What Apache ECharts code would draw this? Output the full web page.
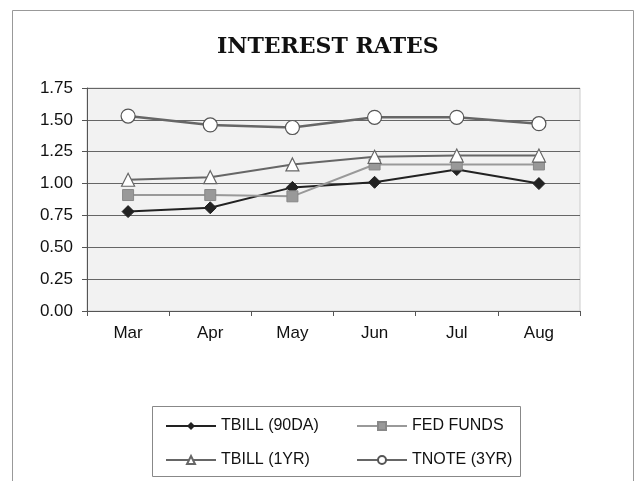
<!DOCTYPE html>
<html>
<head>
<meta charset="utf-8">
<script src="https://cdn.jsdelivr.net/npm/echarts@6/dist/echarts.min.js"></script>
<style>html,body{margin:0;padding:0;background:#fff}#c{width:636px;height:481px}</style>
</head>
<body>
<div id="c"></div>
<script>
const categories = ['Mar', 'Apr', 'May', 'Jun', 'Jul', 'Aug'];
const tbill90 = [0.78, 0.81, 0.97, 1.01, 1.11, 1.00];
const fedFunds = [0.91, 0.91, 0.90, 1.15, 1.15, 1.15];
const tbill1yr = [1.03, 1.05, 1.15, 1.21, 1.22, 1.22];
const tnote3yr = [1.53, 1.46, 1.44, 1.52, 1.52, 1.47];
const yTicks = ['0.00','0.25','0.50','0.75','1.00','1.25','1.50','1.75'];

const chart = echarts.init(document.getElementById('c'));
const sans = 'Liberation Sans, Arial, sans-serif';
chart.setOption({
  animation: false,
  backgroundColor: '#fff',
  title: {
    text: 'INTEREST RATES', left: 217, top: 36, padding: 0,
    textStyle: {fontFamily: 'DejaVu Serif, serif', fontWeight: 'bold', fontSize: 22, color: '#111'}
  },
  graphic: [
    {type: 'rect', shape: {x: 12.5, y: 10.5, width: 621, height: 480}, style: {fill: 'none', stroke: '#999', lineWidth: 1}, z: -1},
    {type: 'rect', shape: {x: 152.5, y: 406.5, width: 368, height: 70}, style: {fill: 'none', stroke: '#888', lineWidth: 1}}
  ],
  legend: [
    {data: ['TBILL (90DA)', 'TBILL (1YR)'], orient: 'vertical', left: 165, top: 418, padding: 0, itemWidth: 50, itemHeight: 10, itemGap: 18,
     textStyle: {fontFamily: sans, fontSize: 16, color: '#111'}},
    {data: ['FED FUNDS', 'TNOTE (3YR)'], orient: 'vertical', left: 356, top: 418, padding: 0, itemWidth: 50, itemHeight: 10, itemGap: 18,
     textStyle: {fontFamily: sans, fontSize: 16, color: '#111'}}
  ],
  grid: {left: 87, right: 56, top: 88, bottom: 170, show: true, backgroundColor: '#f2f2f2', borderColor: '#ccc', borderWidth: 1},
  xAxis: {
    type: 'category', data: categories, boundaryGap: true,
    axisLine: {lineStyle: {color: '#555', width: 1}},
    axisTick: {show: true, length: 5, lineStyle: {color: '#555'}},
    axisLabel: {fontFamily: sans, fontSize: 17, color: '#111', margin: 14}
  },
  yAxis: {
    type: 'value', min: 0, max: 1.75, interval: 0.25,
    axisLine: {show: true, lineStyle: {color: '#555'}},
    axisTick: {show: true, length: 5, lineStyle: {color: '#555'}},
    axisLabel: {fontFamily: sans, fontSize: 17, color: '#111', margin: 14,
      formatter: v => yTicks[Math.round(v / 0.25)]},
    splitLine: {lineStyle: {color: '#666', width: 1}}
  },
  series: [
    {name: 'TBILL (90DA)', type: 'line', data: tbill90, symbol: 'diamond', symbolSize: 12,
     lineStyle: {color: '#222', width: 2}, itemStyle: {color: '#222', borderColor: '#222'}},
    {name: 'FED FUNDS', type: 'line', data: fedFunds, symbol: 'rect', symbolSize: 11,
     lineStyle: {color: '#999', width: 2}, itemStyle: {color: '#999', borderColor: '#888', borderWidth: 1}},
    {name: 'TBILL (1YR)', type: 'line', data: tbill1yr, symbol: 'triangle', symbolSize: 13,
     lineStyle: {color: '#666', width: 2}, itemStyle: {color: '#fff', borderColor: '#666', borderWidth: 1.2}},
    {name: 'TNOTE (3YR)', type: 'line', data: tnote3yr, symbol: 'circle', symbolSize: 14,
     lineStyle: {color: '#666', width: 2.5}, itemStyle: {color: '#fff', borderColor: '#555', borderWidth: 1.2}}
  ]
});
</script>
</body>
</html>
